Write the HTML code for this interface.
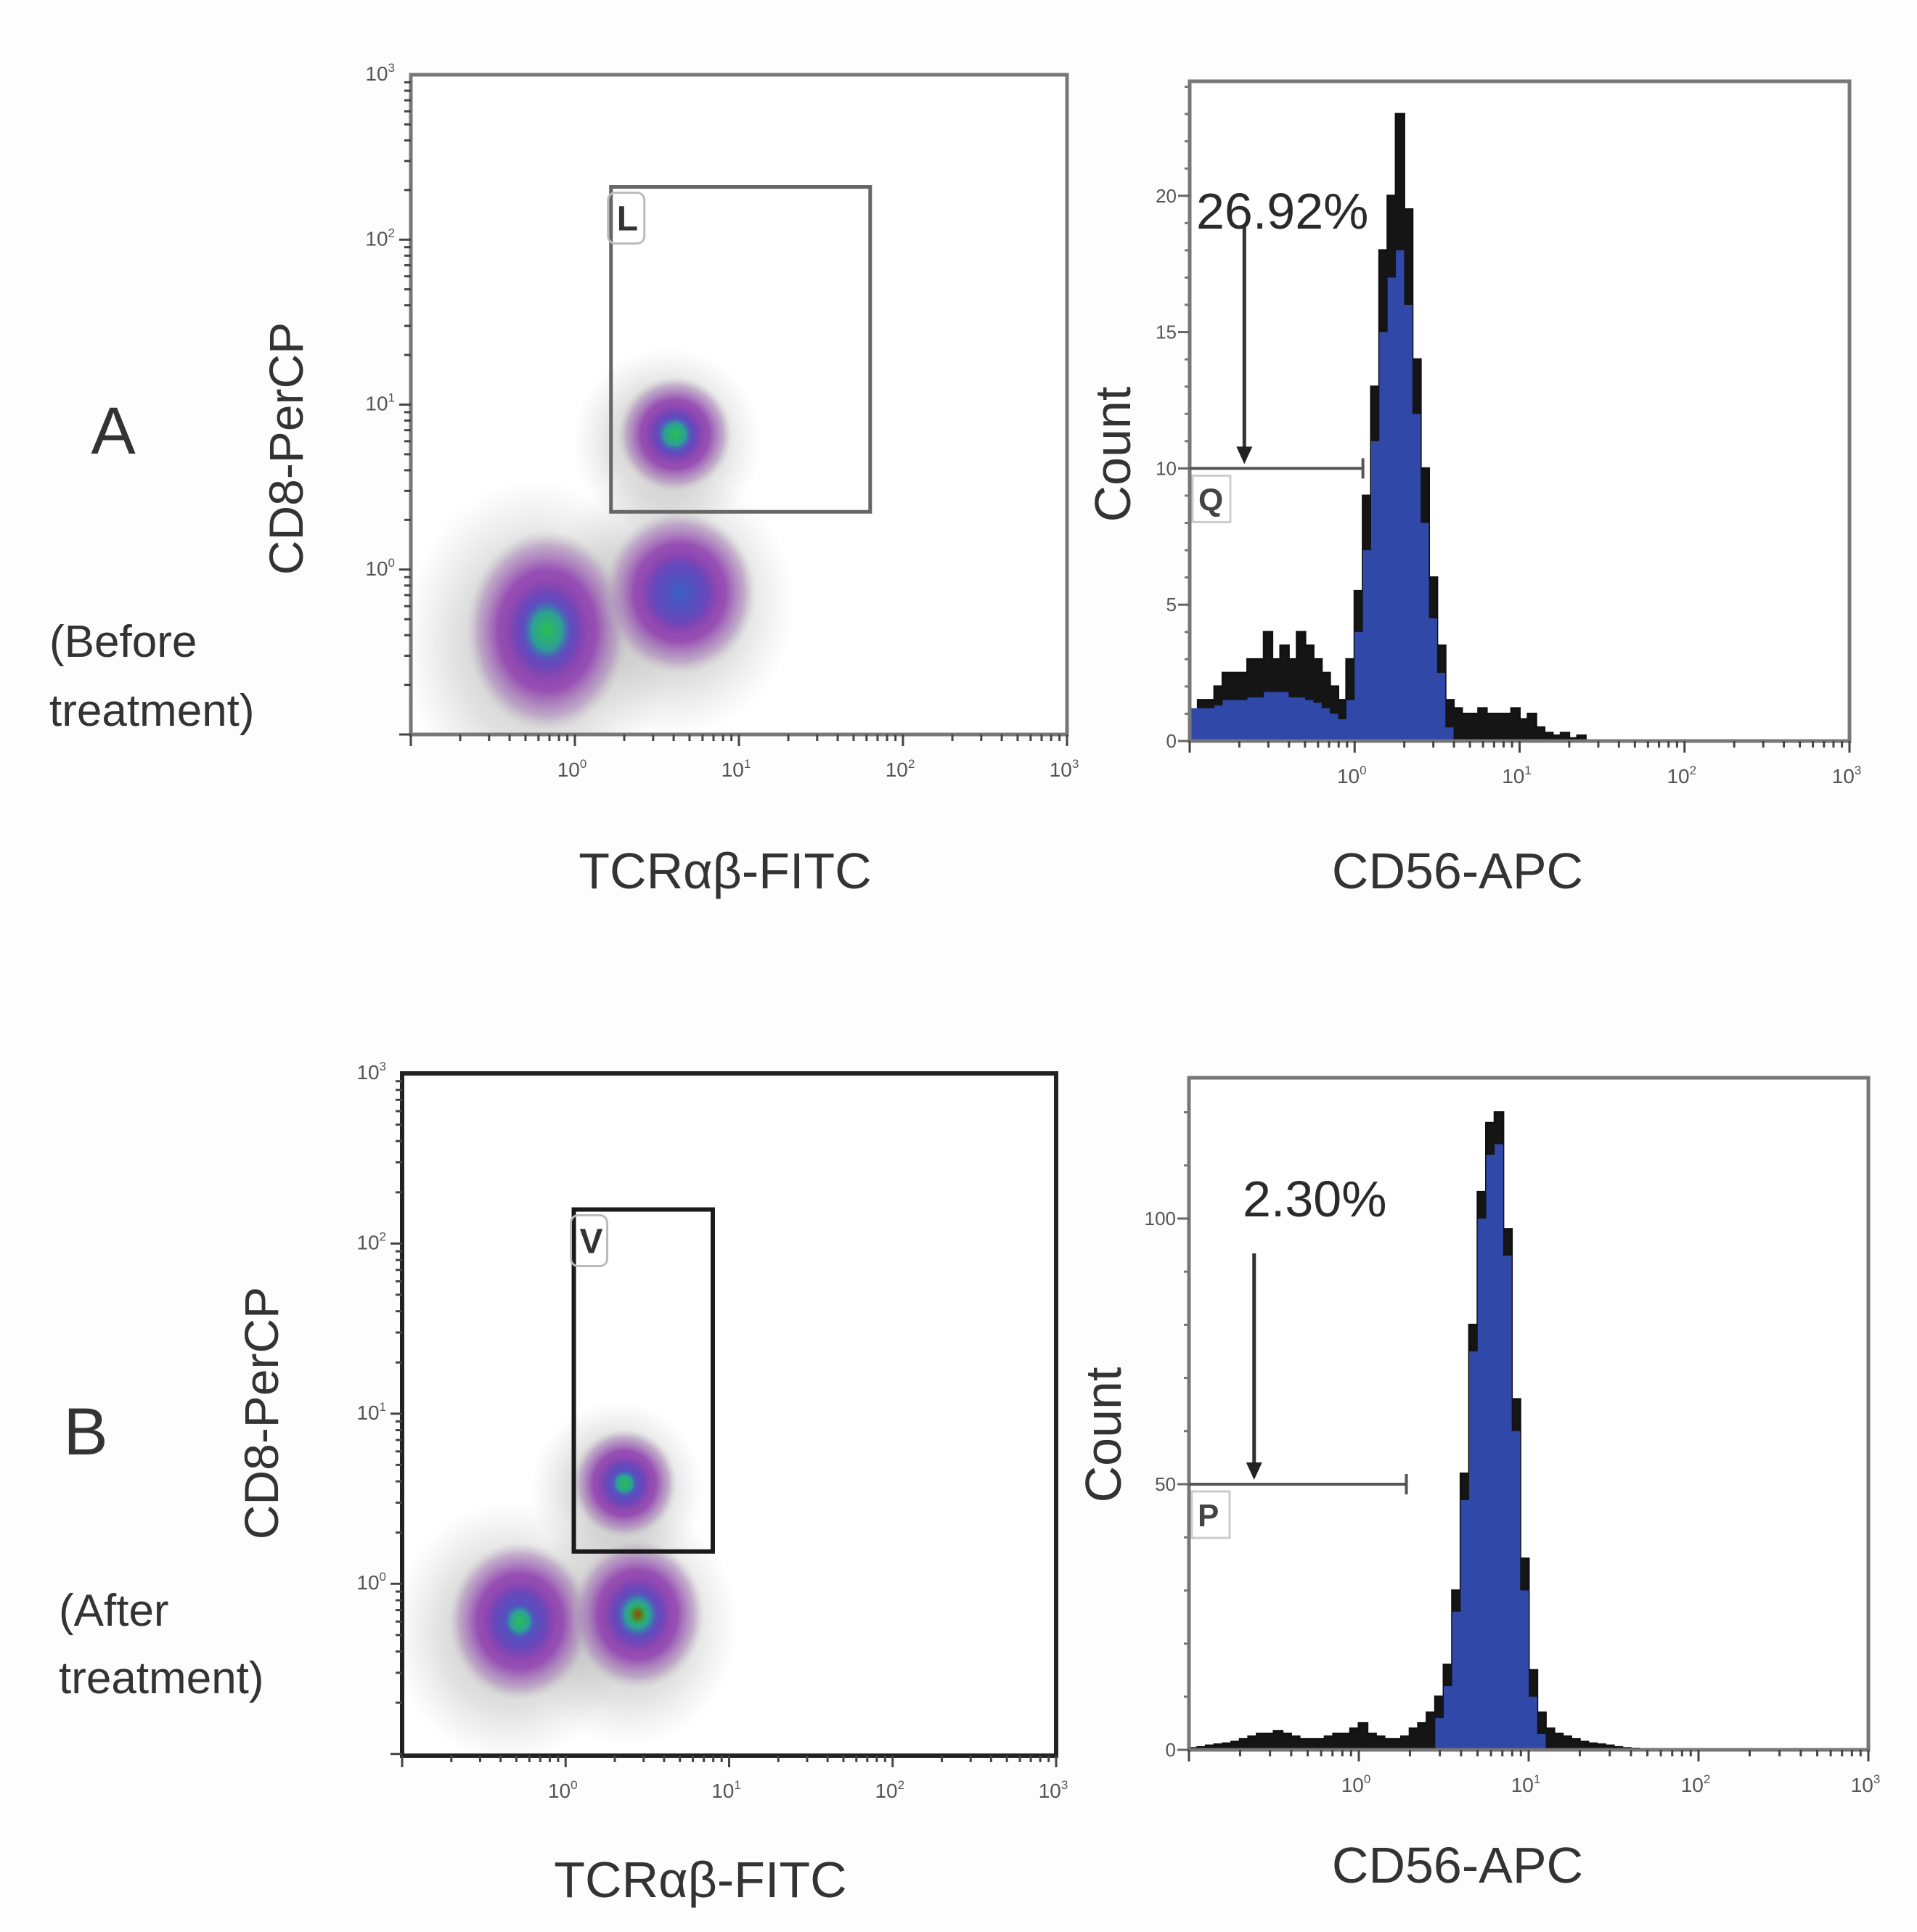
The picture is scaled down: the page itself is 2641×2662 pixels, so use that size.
<!DOCTYPE html>
<html><head><meta charset="utf-8"><style>
html,body{margin:0;padding:0;background:#fdfdfd;}
svg{display:block;font-family:"Liberation Sans",sans-serif;}
</style></head><body>
<svg id="fig" width="2641" height="2662" viewBox="0 0 2641 2662" xmlns="http://www.w3.org/2000/svg">
<defs>
<radialGradient id="blobOuter"><stop offset="0" stop-color="#7a36a8" stop-opacity="1"/><stop offset="0.6" stop-color="#9040b0" stop-opacity="0.9"/><stop offset="0.85" stop-color="#a880b8" stop-opacity="0.55"/><stop offset="1" stop-color="#bbb" stop-opacity="0"/></radialGradient>
<radialGradient id="blobMid"><stop offset="0" stop-color="#3a62c8" stop-opacity="1"/><stop offset="0.7" stop-color="#5a4ac0" stop-opacity="0.7"/><stop offset="1" stop-color="#7a3ab0" stop-opacity="0"/></radialGradient>
<radialGradient id="blobCore"><stop offset="0" stop-color="#28c050"/><stop offset="0.6" stop-color="#2aa890" stop-opacity="0.9"/><stop offset="1" stop-color="#3a70c0" stop-opacity="0"/></radialGradient>
<radialGradient id="blobHot"><stop offset="0" stop-color="#a04010"/><stop offset="0.5" stop-color="#508a20" stop-opacity="0.9"/><stop offset="1" stop-color="#30b060" stop-opacity="0"/></radialGradient>
<radialGradient id="halo"><stop offset="0" stop-color="#999" stop-opacity="0.65"/><stop offset="0.6" stop-color="#aaa" stop-opacity="0.35"/><stop offset="1" stop-color="#bbb" stop-opacity="0"/></radialGradient>
</defs>
<g id="layer"></g>
</svg>
<script>
// ---- Panel A scatter clusters (log10 units) ----
const scatterA_x = [-0.17, 0.64, 0.61];
const scatterA_y = [-0.37, -0.14, 0.82];
const scatterA_sx = [0.34, 0.32, 0.24];
const scatterA_sy = [0.42, 0.34, 0.24];
const scatterA_core = [1, 0.3, 1];
const scatterA_hot = [0, 0, 0];
const gateA = [0.22, 1.8, 0.35, 2.32];
// ---- Panel B scatter clusters ----
const scatterB_x = [-0.28, 0.44, 0.36];
const scatterB_y = [-0.22, -0.18, 0.59];
const scatterB_sx = [0.3, 0.28, 0.22];
const scatterB_sy = [0.32, 0.3, 0.22];
const scatterB_core = [0.7, 1, 0.8];
const scatterB_hot = [0, 1, 0];
const gateB = [0.05, 0.9, 0.19, 2.2];
// ---- Histogram A ----
const histA_start = -1.0, histA_step = 0.05;
const histA_total = [1.0,1.5,1.5,2,2.5,2.5,2.5,3,3,4,3,3.5,3,4,3.5,3,2.5,2,1.5,3,5.5,9,13,18,20,23,19.5,14,10,6,3.5,1.5,1.2,1,1,1.2,1,1,1,1.2,0.8,1,0.5,0.3,0.2,0.3,0.1,0.2,0,0];
const histA_blue = [1.2,1.2,1.2,1.3,1.5,1.5,1.5,1.6,1.6,1.8,1.8,1.8,1.6,1.6,1.5,1.4,1.2,1.0,0.8,1.5,4,7,11,15,17,18,16,12,8,4.5,2.5,0.5];
const histA_yticks = [0,5,10,15,20];
const gateQ = [-1.0, 0.05, 10];
const labelA = "26.92%";
// ---- Histogram B ----
const histB_start = -1.0, histB_step = 0.05;
const histB_total = [0.3,0.5,0.8,1,1.2,1.5,2,2.5,3,3,3.5,3,2.5,2,2,2,2.5,3,3,4,5,3,2.5,2,2,2.5,4,5,7,10,16,30,52,80,105,118,120,98,66,36,15,7,4,3,2.5,2,1.5,1.2,1,0.8,0.5,0.3,0.2];
const histB_blue = [0,0,0,0,0,0,0,0,0,0,0,0,0,0,0,0,0,0,0,0,0,0,0,0,0,0,0,0,0,6,12,26,47,75,100,112,114,93,60,30,10,3];
const histB_yticks = [0,50,100];
const gateP = [-1.0, 0.28, 50];
const labelB = "2.30%";
const logTicks = [0,1,2,3];

const NS = "http://www.w3.org/2000/svg";
const layer = document.getElementById('layer');
function mk(tag, attrs, parent){ const e=document.createElementNS(NS,tag); for(const k in attrs) e.setAttribute(k,attrs[k]); (parent||layer).appendChild(e); return e; }
function txt(s, attrs, parent){ const e=mk('text',attrs,parent); e.textContent=s; return e; }

function logAxes(g, P, xs, ys, doY){
  for(let d=-1; d<3; d++) for(let k=1;k<10;k++){
    const v=d+Math.log10(k); if(v<P.x0) continue;
    const x=xs(v); const L=k==1?16:9;
    mk('line',{x1:x,x2:x,y1:P.b,y2:P.b+L,stroke:'#444','stroke-width':3},g);
  }
  mk('line',{x1:xs(3),x2:xs(3),y1:P.b,y2:P.b+16,stroke:'#444','stroke-width':3},g);
  logTicks.forEach(t=>{
    const e=txt('10',{x:xs(t)-4,y:P.b+58,'font-size':28,fill:'#555','text-anchor':'middle'},g);
    const s=document.createElementNS(NS,'tspan'); s.setAttribute('dy','-12'); s.setAttribute('font-size','17'); s.textContent=String(t); e.appendChild(s);
    
    
  });
  if(doY){
    for(let d=-1; d<3; d++) for(let k=1;k<10;k++){
      const v=d+Math.log10(k); if(v<P.y0) continue;
      const y=ys(v); const L=k==1?16:9;
      mk('line',{x1:P.l-L,x2:P.l,y1:y,y2:y,stroke:'#444','stroke-width':3},g);
    }
    logTicks.forEach(t=>{
      const e=txt('10',{x:P.l-22,y:ys(t)+8,'font-size':28,fill:'#555','text-anchor':'end'},g);
      const s=document.createElementNS(NS,'tspan'); s.setAttribute('dy','-12'); s.setAttribute('font-size','17'); s.textContent=String(t); e.appendChild(s);
      
      
    });
  }
}

function scatterPanel(name, P, cx, cy, sx, sy, core, hot, gate, gateLbl){
  const g=mk('g',{});
  
  
  const xs=v=>P.l+(v-P.x0)/(P.x1-P.x0)*(P.r-P.l);
  const ys=v=>P.b-(v-P.y0)/(P.y1-P.y0)*(P.b-P.t);
  const ppdX=(P.r-P.l)/(P.x1-P.x0), ppdY=(P.b-P.t)/(P.y1-P.y0);
  mk('rect',{x:P.l,y:P.t,width:P.r-P.l,height:P.b-P.t,fill:'#fff'},g);
  const clip='clip-'+name;
  const cp=mk('clipPath',{id:clip},g); mk('rect',{x:P.l,y:P.t,width:P.r-P.l,height:P.b-P.t},cp);
  const dg=mk('g',{'clip-path':'url(#'+clip+')'},g);
  for(let i=0;i<cx.length;i++){
    const X=xs(cx[i]), Y=ys(cy[i]), RX=sx[i]*ppdX, RY=sy[i]*ppdY;
    const h=mk('ellipse',{cx:X-RX*0.2,cy:Y+RY*0.2,rx:RX*2.4,ry:RY*2.4,fill:'url(#halo)'},dg);
    
    
  }
  for(let i=0;i<cx.length;i++){
    const X=xs(cx[i]), Y=ys(cy[i]), RX=sx[i]*ppdX, RY=sy[i]*ppdY;
    const o=mk('ellipse',{cx:X,cy:Y,rx:RX*1.45,ry:RY*1.45,fill:'url(#blobOuter)'},dg);
    
    
    mk('ellipse',{cx:X,cy:Y,rx:RX*0.75,ry:RY*0.75,fill:'url(#blobMid)'},dg);
    if(core[i]>0.5) mk('ellipse',{cx:X,cy:Y,rx:RX*0.45*core[i],ry:RY*0.45*core[i],fill:'url(#blobCore)'},dg);
    if(hot[i]) mk('ellipse',{cx:X,cy:Y,rx:RX*0.22,ry:RY*0.22,fill:'url(#blobHot)'},dg);
  }
  mk('rect',{x:P.l,y:P.t,width:P.r-P.l,height:P.b-P.t,fill:'none',stroke:P.axc,'stroke-width':P.sw},g);
  const gr=mk('rect',{x:xs(gate[0]),y:ys(gate[3]),width:xs(gate[1])-xs(gate[0]),height:ys(gate[2])-ys(gate[3]),fill:'none',stroke:P.gatec,'stroke-width':P.gw},g);
  
  
  mk('rect',{x:xs(gate[0])-4,y:ys(gate[3])+8,width:50,height:70,rx:10,fill:'none',stroke:'#bbb','stroke-width':3},g);
  const gl=txt(gateLbl,{x:xs(gate[0])+8,y:ys(gate[3])+60,'font-size':48,fill:'#333','font-weight':'bold'},g);
  
  
  logAxes(g,P,xs,ys,true);
}

function histPanel(name, P, start, step, total, blue, yticks, gate, label){
  const g=mk('g',{});
  
  
  const xs=v=>P.l+(v-P.x0)/(P.x1-P.x0)*(P.r-P.l);
  const ys=v=>P.b-v/P.ymax*(P.b-P.t);
  mk('rect',{x:P.l,y:P.t,width:P.r-P.l,height:P.b-P.t,fill:'#fff'},g);
  function stepPath(arr){
    let d='M'+xs(start)+','+ys(0);
    arr.forEach((c,i)=>{ const a=xs(start+i*step), b=xs(start+(i+1)*step); d+=' L'+a+','+ys(c)+' L'+b+','+ys(c); });
    d+=' L'+xs(start+arr.length*step)+','+ys(0)+' Z'; return d;
  }
  const tp=mk('path',{d:stepPath(total),fill:'#151515',stroke:'#111','stroke-width':3},g);
  
  
  const bp=mk('path',{d:stepPath(blue),fill:'#3048a8',stroke:'none'},g);
  
  
  mk('rect',{x:P.l,y:P.t,width:P.r-P.l,height:P.b-P.t,fill:'none',stroke:'#777','stroke-width':5},g);
  const minor=yticks[1]-yticks[0];
  for(let v=0; v<=P.ymax; v+=minor/5){ const y=ys(v); if(y<P.t) break; mk('line',{x1:P.l-7,x2:P.l,y1:y,y2:y,stroke:'#777','stroke-width':3},g); }
  yticks.forEach(t=>{
    const y=ys(t);
    mk('line',{x1:P.l-16,x2:P.l,y1:y,y2:y,stroke:'#666','stroke-width':3},g);
    const e=txt(String(t),{x:P.l-18,y:y+9,'font-size':26,fill:'#555','text-anchor':'end'},g);
    
    
  });
  logAxes(g,P,xs,ys,false);
  const gy=ys(gate[2]);
  const gl=mk('line',{x1:xs(gate[0]),x2:xs(gate[1]),y1:gy,y2:gy,stroke:'#555','stroke-width':4},g);
  
  
  mk('line',{x1:xs(gate[1]),x2:xs(gate[1]),y1:gy-14,y2:gy+14,stroke:'#555','stroke-width':4},g);
  mk('rect',{x:P.l+4,y:gy+10,width:52,height:64,fill:'none',stroke:'#ccc','stroke-width':3},g);
  txt(P.gl,{x:P.l+12,y:gy+58,'font-size':44,fill:'#444','font-weight':'bold'},g);
  const ax=(xs(gate[0])+xs(gate[1]))/2+P.arrowOff;
  mk('line',{x1:ax,x2:ax,y1:P.arrowTop,y2:gy-18,stroke:'#333','stroke-width':5},g);
  mk('path',{d:`M${ax-11},${gy-30} L${ax+11},${gy-30} L${ax},${gy-6} Z`,fill:'#222'},g);
  const lt=txt(label,{x:P.lx,y:P.ly,'font-size':70,fill:'#2a2a2a'},g);
  
  
}

scatterPanel('scatter-before',{l:566,r:1470,t:103,b:1012,x0:-1,x1:3,y0:-1,y1:3,axc:'#777',sw:5,gatec:'#666',gw:5},scatterA_x,scatterA_y,scatterA_sx,scatterA_sy,scatterA_core,scatterA_hot,gateA,'L');
scatterPanel('scatter-after',{l:554,r:1455,t:1479,b:2419,x0:-1,x1:3,y0:-1.01,y1:3,axc:'#222',sw:6,gatec:'#1a1a1a',gw:6},scatterB_x,scatterB_y,scatterB_sx,scatterB_sy,scatterB_core,scatterB_hot,gateB,'V');
histPanel('histogram-before',{l:1639,r:2548,t:112,b:1021,x0:-1,x1:3,ymax:24.2,gl:'Q',arrowOff:-44,arrowTop:310,lx:1648,ly:315},histA_start,histA_step,histA_total,histA_blue,histA_yticks,gateQ,labelA);
histPanel('histogram-after',{l:1638,r:2574,t:1485,b:2411,x0:-1,x1:3,ymax:126.5,gl:'P',arrowOff:-60,arrowTop:1727,lx:1712,ly:1676},histB_start,histB_step,histB_total,histB_blue,histB_yticks,gateP,labelB);

const labels=[
 ['A',156,625,92,'panel-label-a','middle',0],
 ['(Before',68,905,62,'condition-label-before','start',0],
 ['treatment)',68,1000,62,'condition-label-before-2','start',0],
 ['B',118,2004,92,'panel-label-b','middle',0],
 ['(After',81,2240,62,'condition-label-after','start',0],
 ['treatment)',81,2333,62,'condition-label-after-2','start',0],
 ['TCRαβ-FITC',999,1224,70,'x-axis-title-a-scatter','middle',0],
 ['CD56-APC',2008,1224,70,'x-axis-title-a-hist','middle',0],
 ['TCRαβ-FITC',965,2614,70,'x-axis-title-b-scatter','middle',0],
 ['CD56-APC',2008,2594,70,'x-axis-title-b-hist','middle',0],
 ['CD8-PerCP',393,618,66,'y-axis-title-a-scatter','middle',-90],
 ['Count',1532,626,70,'y-axis-title-a-hist','middle',-90],
 ['CD8-PerCP',359,1947,66,'y-axis-title-b-scatter','middle',-90],
 ['Count',1519,1977,70,'y-axis-title-b-hist','middle',-90]
];
labels.forEach(L=>{
  const rot=L[6]; const x=L[1], y=L[2];
  const e=txt(L[0],{x:rot?0:x,y:rot?L[3]*0.36:y,'font-size':L[3],fill:'#333','text-anchor':L[5],transform:rot?`translate(${x},${y}) rotate(${rot})`:''});
  
  
});
</script>
</body></html>
